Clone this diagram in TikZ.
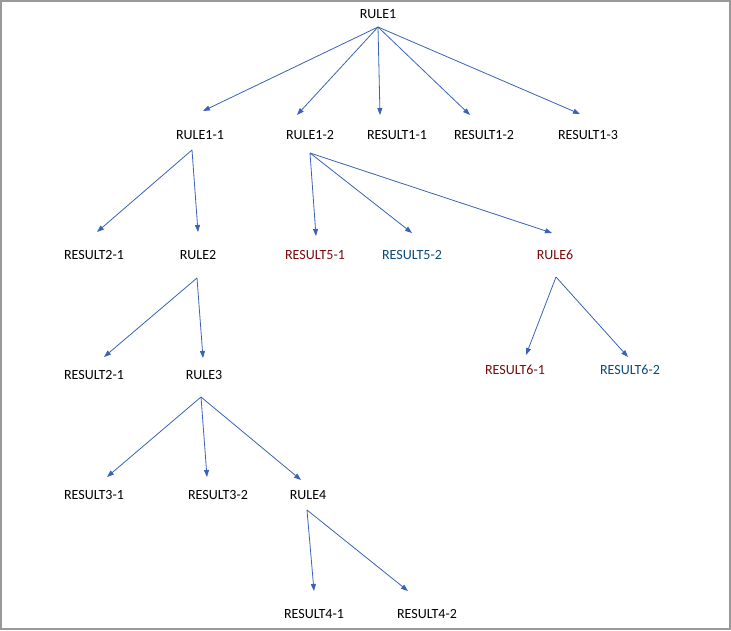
\documentclass[tikz,border=0pt]{standalone}
\usepackage{fontspec}
\setmainfont{Carlito}
\usetikzlibrary{arrows.meta}
\definecolor{arr}{HTML}{3A62B8}
\definecolor{dred}{HTML}{7A0C0C}
\definecolor{dblue}{HTML}{0B4A7A}
\begin{document}
\begin{tikzpicture}[x=1pt,y=-1pt,
  lbl/.style={font=\fontsize{14}{16}\selectfont,inner sep=0pt},
  con/.style={draw=arr,line width=0.8pt,-{Triangle[length=7pt,width=5pt]}}]
\draw[draw=black!40,line width=2pt,fill=white] (1,1) rectangle (730,629);
\node[lbl] (r1) at (378,14) {RULE1};
\node[lbl] (r11) at (200,135) {RULE1-1};
\node[lbl] (r12) at (310,135) {RULE1-2};
\node[lbl] (s11) at (397,135) {RESULT1-1};
\node[lbl] (s12) at (484,135) {RESULT1-2};
\node[lbl] (s13) at (588,135) {RESULT1-3};
\node[lbl] (s21) at (94,255) {RESULT2-1};
\node[lbl] (r2) at (198,255) {RULE2};
\node[lbl,text=dred] (s51) at (315,255) {RESULT5-1};
\node[lbl,text=dblue] (s52) at (412,255) {RESULT5-2};
\node[lbl,text=dred] (r6) at (555,255) {RULE6};
\node[lbl] (s21b) at (94,375) {RESULT2-1};
\node[lbl] (r3) at (204,375) {RULE3};
\node[lbl,text=dred] (s61) at (515,370) {RESULT6-1};
\node[lbl,text=dblue] (s62) at (630,370) {RESULT6-2};
\node[lbl] (s31) at (94,495) {RESULT3-1};
\node[lbl] (s32) at (218,495) {RESULT3-2};
\node[lbl] (r4) at (308,495) {RULE4};
\node[lbl] (s41) at (314,614) {RESULT4-1};
\node[lbl] (s42) at (427,614) {RESULT4-2};
% connector end points
\coordinate (r1o) at (378,27);
\coordinate (r11i) at (203,111); \coordinate (r12i) at (297,115);
\coordinate (s11i) at (380,115); \coordinate (s12i) at (470,115);
\coordinate (s13i) at (580,114);
\coordinate (r11o) at (192,150);
\coordinate (s21i) at (97,232); \coordinate (r2i) at (198,232);
\coordinate (r12o) at (310,153);
\coordinate (s51i) at (316,236); \coordinate (s52i) at (412,233); \coordinate (r6i) at (552,233);
\coordinate (r2o) at (197,278);
\coordinate (s21bi) at (104,357); \coordinate (r3i) at (203,358);
\coordinate (r3o) at (201,397);
\coordinate (s31i) at (107,477); \coordinate (s32i) at (207,477); \coordinate (r4i) at (301,480);
\coordinate (r4o) at (307,510);
\coordinate (s41i) at (314,591); \coordinate (s42i) at (408,591);
\coordinate (r6o) at (556,277);
\coordinate (s61i) at (526,355); \coordinate (s62i) at (628,357);
\foreach \a/\b in {r1o/r11i,r1o/r12i,r1o/s11i,r1o/s12i,r1o/s13i,
  r11o/s21i,r11o/r2i,r12o/s51i,r12o/s52i,r12o/r6i,r2o/s21bi,r2o/r3i,
  r3o/s31i,r3o/s32i,r3o/r4i,r4o/s41i,r4o/s42i,r6o/s61i,r6o/s62i}
  \draw[con] (\a) -- (\b);
\end{tikzpicture}
\end{document}
